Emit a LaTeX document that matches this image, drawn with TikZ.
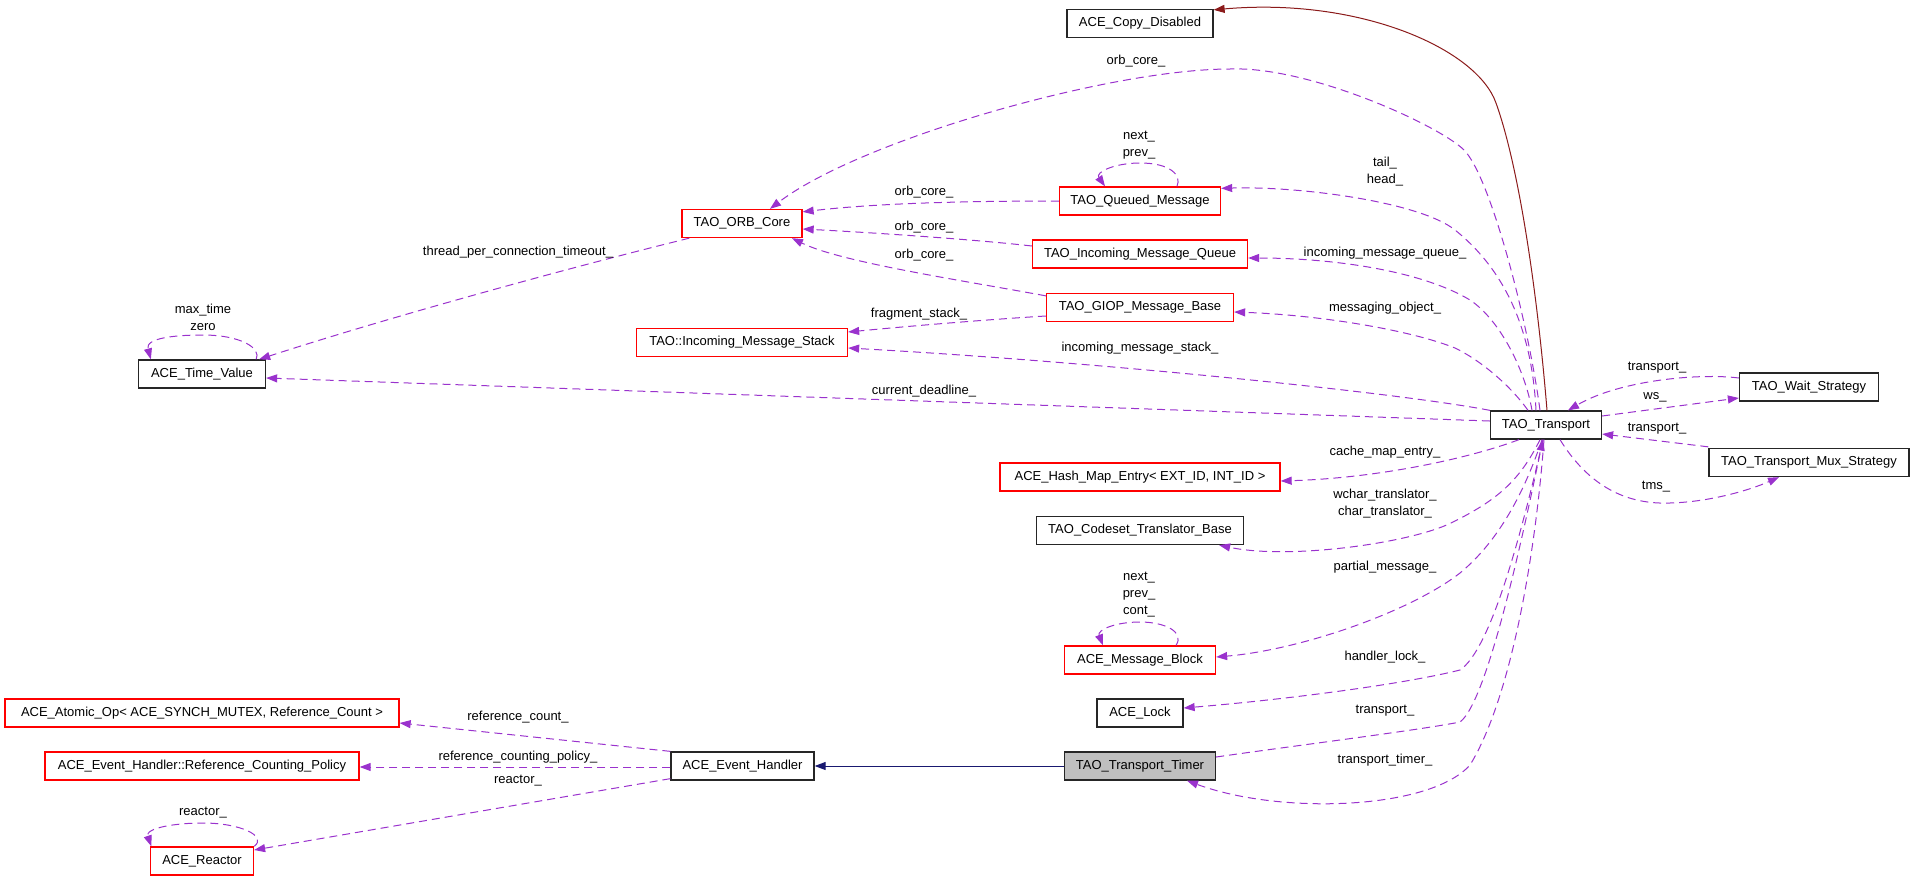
\documentclass[tikz,border=0pt]{standalone}
\usepackage{fontspec}
\setmainfont{Liberation Sans}
\usetikzlibrary{arrows.meta,calc}
\definecolor{dep}{RGB}{154,50,205}
\definecolor{inhr}{RGB}{139,26,26}
\definecolor{inhb}{RGB}{25,25,112}
\definecolor{boxgray}{RGB}{191,191,191}
\begin{document}
\begin{tikzpicture}[x=1pt,y=-1pt,
  cls/.style={draw=black!85, line width=1.3pt, minimum height=28pt, inner sep=0pt, font=\fontsize{13}{15}\selectfont},
  redcls/.style={cls, draw=red},
  lbl/.style={inner sep=0pt, font=\fontsize{13}{17}\selectfont, align=center},
  tipA/.style={-{Triangle[length=11pt,width=8pt]}},
  depline/.style={draw=dep, dash pattern=on 8pt off 5pt, line width=1pt, tipA},
  inhline/.style={line width=1pt, tipA}
]
\useasboundingbox (0,0) rectangle (1915,881);

% classes
\node[cls, minimum width=146pt] (cd) at (1140,23.5) {ACE\_Copy\_Disabled};
\node[redcls, minimum width=120pt] (orb) at (742,223.5) {TAO\_ORB\_Core};
\node[redcls, minimum width=161pt] (qm) at (1140,201) {TAO\_Queued\_Message};
\node[redcls, minimum width=215pt] (imq) at (1140,254) {TAO\_Incoming\_Message\_Queue};
\node[redcls, minimum width=187pt] (giop) at (1140,307.5) {TAO\_GIOP\_Message\_Base};
\node[redcls, minimum width=211pt] (ims) at (742,342.5) {TAO::Incoming\_Message\_Stack};
\node[cls, minimum width=127pt] (tv) at (202,374) {ACE\_Time\_Value};
\node[cls, minimum width=111pt] (tr) at (1546,425) {TAO\_Transport};
\node[cls, minimum width=139pt] (ws) at (1809,387) {TAO\_Wait\_Strategy};
\node[cls, minimum width=200pt] (mux) at (1809,462.5) {TAO\_Transport\_Mux\_Strategy};
\node[redcls, minimum width=280pt] (hme) at (1140,477) {ACE\_Hash\_Map\_Entry< EXT\_ID, INT\_ID >};
\node[cls, minimum width=207pt] (ctb) at (1140,530.5) {TAO\_Codeset\_Translator\_Base};
\node[redcls, minimum width=151pt] (mb) at (1140,660) {ACE\_Message\_Block};
\node[cls, minimum width=86pt] (lock) at (1140,713) {ACE\_Lock};
\node[cls, minimum width=151pt, fill=boxgray] (tt) at (1140,766) {TAO\_Transport\_Timer};
\node[cls, minimum width=143pt] (eh) at (742.5,766) {ACE\_Event\_Handler};
\node[redcls, minimum width=394pt] (ao) at (202,713) {ACE\_Atomic\_Op< ACE\_SYNCH\_MUTEX, Reference\_Count >};
\node[redcls, minimum width=314pt] (rcp) at (202,766) {ACE\_Event\_Handler::Reference\_Counting\_Policy};
\node[redcls, minimum width=103pt] (re) at (202,861) {ACE\_Reactor};

% inheritance
\draw[inhline, draw=inhr] ($(tr.north)+(1,0)$) .. controls (1538,300) and (1520,170) .. (1496,103) .. controls (1477,49) and (1360,-3) .. ($(cd.north east)+(0,1)$);
\draw[inhline, draw=inhb] (tt.west) -- (eh.east);

% usage
\draw[depline] ($(tr.north)+(-6,0)$) .. controls (1528,320) and (1490,176) .. (1464,150) .. controls (1440,126) and (1310,66) .. (1230,69) .. controls (1110,69) and (860,140) .. ($(orb.north)+(28,0)$);
\draw[depline] (qm.west) .. controls (950,201) and (870,204) .. ($(orb.north east)+(0,3)$);
\draw[depline] ($(qm.north)+(37,0)$) .. controls (1182,175) and (1170,163) .. (1140,163) .. controls (1115,163) and (1095,172) .. ($(qm.north)+(-35,0)$);
\draw[depline] ($(tr.north)+(-10,0)$) .. controls (1532,330) and (1505,270) .. (1455,230) .. controls (1420,202) and (1300,186) .. ($(qm.north east)+(0,2)$);
\draw[depline] ($(imq.west)+(0,-8)$) .. controls (980,240) and (880,233) .. ($(orb.east)+(0,5.5)$);
\draw[depline] ($(tr.north)+(-14,0)$) .. controls (1525,370) and (1500,320) .. (1470,300) .. controls (1420,270) and (1330,258) .. ($(imq.east)+(0,4)$);
\draw[depline] ($(giop.north west)+(0,3)$) .. controls (960,280) and (840,262) .. ($(orb.south)+(50,0)$);
\draw[depline] ($(giop.west)+(0,8.5)$) .. controls (980,320) and (900,327) .. ($(ims.east)+(0,-10.5)$);
\draw[depline] ($(tr.north)+(-18,0)$) .. controls (1510,385) and (1480,360) .. (1455,348) .. controls (1410,330) and (1320,315) .. ($(giop.east)+(0,4.5)$);
\draw[depline] (tr.north west) .. controls (1400,393) and (1100,362) .. ($(ims.east)+(0,5.5)$);
\draw[depline] ($(tr.west)+(0,-4)$) -- ($(tv.east)+(0,4)$);
\draw[depline] ($(orb.south west)+(8,0)$) .. controls (560,270) and (380,320) .. ($(tv.north east)+(-7,0)$);
\draw[depline] ($(tv.north east)+(-10,0)$) .. controls (262,348) and (240,335) .. (203,335) .. controls (175,335) and (145,338) .. ($(tv.north west)+(13,0)$);
\draw[depline] (eh.north west) -- ($(ao.east)+(0,10)$);
\draw[depline] ($(eh.west)+(0,1)$) -- ($(rcp.east)+(0,1)$);
\draw[depline] ($(eh.south west)+(0,-2)$) -- ($(re.east)+(0,-11)$);
\draw[depline] (re.north east) .. controls (268,836) and (240,823) .. (203,823) .. controls (175,823) and (145,828) .. ($(re.north west)+(1.5,0)$);
\draw[depline] ($(tr.south)+(-27,0)$) .. controls (1470,458) and (1380,478) .. ($(hme.east)+(0,4)$);
\draw[depline] ($(tr.south)+(-6,0)$) .. controls (1520,480) and (1498,500) .. (1451,523) .. controls (1410,543) and (1290,560) .. ($(ctb.south east)+(-25,0)$);
\draw[depline] ($(tr.south)+(-4,0)$) .. controls (1525,490) and (1500,540) .. (1460,573) .. controls (1410,612) and (1300,650) .. ($(mb.east)+(0,-3)$);
\draw[depline] ($(mb.north)+(36,0)$) .. controls (1185,632) and (1165,622) .. (1140,622) .. controls (1115,622) and (1097,630) .. ($(mb.north)+(-37,0)$);
\draw[depline] ($(tr.south)+(-3,0)$) .. controls (1520,540) and (1490,650) .. (1460,670) .. controls (1400,685) and (1280,700) .. ($(lock.east)+(0,-5)$);
\draw[depline] ($(tt.east)+(0,-9)$) .. controls (1300,745) and (1420,730) .. (1460,722) .. controls (1490,700) and (1530,500) .. ($(tr.south)+(-3,0)$);
\draw[depline] ($(tr.south)+(-2,0)$) .. controls (1535,560) and (1510,700) .. (1470,765) .. controls (1430,810) and (1280,815) .. ($(tt.south)+(47,0)$);
\draw[depline] ($(ws.west)+(0,-9)$) .. controls (1700,373) and (1620,380) .. ($(tr.north)+(22,0)$);
\draw[depline] ($(tr.east)+(0,-9)$) -- ($(ws.west)+(0,11)$);
\draw[depline] ($(mux.north west)+(0,-1)$) -- ($(tr.east)+(0,9)$);
\draw[depline] ($(tr.south)+(14,0)$) .. controls (1585,480) and (1620,505) .. (1670,503) .. controls (1710,502) and (1750,490) .. ($(mux.south)+(-30,0)$);

% labels
\node[lbl] (l1) at (1136,61) {orb\_core\_};
\node[lbl] (l2) at (924,192) {orb\_core\_};
\node[lbl] (l3) at (924,227) {orb\_core\_};
\node[lbl] (l4) at (924,255) {orb\_core\_};
\node[lbl] (l5) at (1139,145) {next\_\\prev\_};
\node[lbl] (l6) at (1385,171.5) {tail\_\\head\_};
\node[lbl] (l7) at (1385,253) {incoming\_message\_queue\_};
\node[lbl] (l8) at (1385,308) {messaging\_object\_};
\node[lbl] (l9) at (919,314) {fragment\_stack\_};
\node[lbl] (l10) at (1140,348) {incoming\_message\_stack\_};
\node[lbl] (l11) at (924,391) {current\_deadline\_};
\node[lbl] (l12) at (518,252) {thread\_per\_connection\_timeout\_};
\node[lbl] (l13) at (203,317) {max\_time\\zero};
\node[lbl] (l14) at (1657,368) {transport\_};
\node[lbl] (l15) at (1655,397) {ws\_};
\node[lbl] (l16) at (1657,429) {transport\_};
\node[lbl] (l17) at (1656,487) {tms\_};
\node[lbl] (l18) at (1385,452) {cache\_map\_entry\_};
\node[lbl] (l19) at (1385,503.5) {wchar\_translator\_\\char\_translator\_};
\node[lbl] (l20) at (1385,567) {partial\_message\_};
\node[lbl] (l21) at (1139,595) {next\_\\prev\_\\cont\_};
\node[lbl] (l22) at (1385,657) {handler\_lock\_};
\node[lbl] (l23) at (1385,711) {transport\_};
\node[lbl] (l24) at (1385,760) {transport\_timer\_};
\node[lbl] (l25) at (518,717) {reference\_count\_};
\node[lbl] (l26) at (518,757) {reference\_counting\_policy\_};
\node[lbl] (l27) at (518,781) {reactor\_};
\node[lbl] (l28) at (203,813) {reactor\_};
\end{tikzpicture}
\end{document}
